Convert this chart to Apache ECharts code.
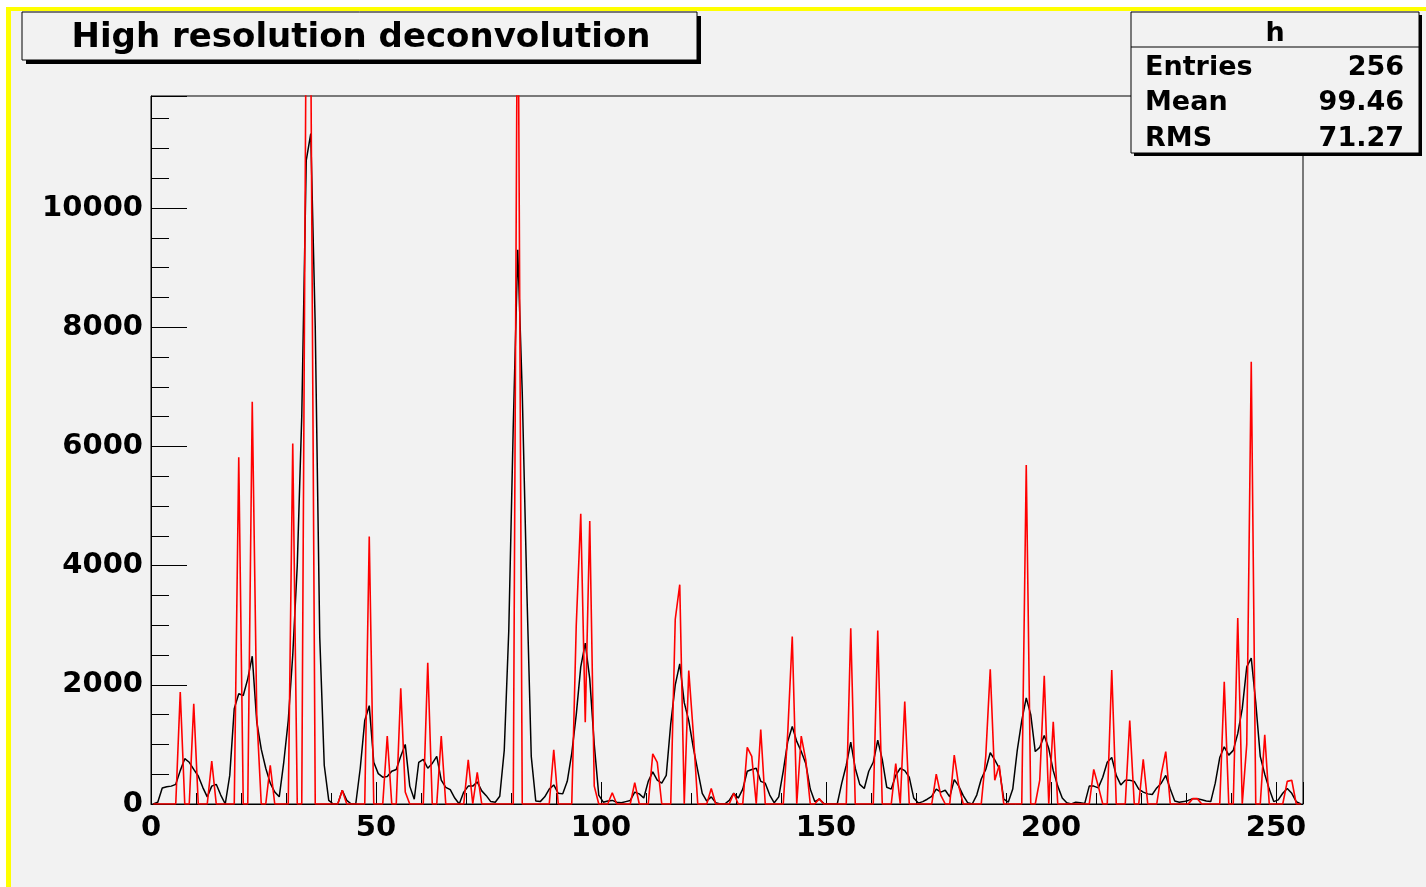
<!DOCTYPE html>
<html><head><meta charset="utf-8">
<script src="https://cdn.jsdelivr.net/npm/echarts@6/dist/echarts.min.js"></script>
<style>html,body{margin:0;padding:0;background:#fff;} #c{width:1426px;height:887px;}</style>
</head><body><div id="c"></div>
<script>
// Source spectrum (black), 256 bins
const sourceCounts = [
  0,30,270,290,300,330,560,760,700,580,470,280,120,300,330,150,
  0,480,1600,1850,1820,2100,2480,1380,920,600,350,200,120,700,1400,2500,
  4000,6500,10800,11250,8000,2800,650,60,0,0,230,60,0,0,600,1400,
  1650,700,510,450,460,550,580,800,1000,300,80,700,750,600,680,800,
  400,280,240,100,0,200,300,300,370,220,140,40,30,130,900,2900,
  6340,9300,6900,3650,800,50,40,120,250,320,180,170,380,850,1500,2300,
  2700,2100,1000,150,30,50,60,30,20,40,60,200,170,100,380,540,
  400,350,480,1350,2000,2350,1700,1400,950,560,180,50,120,20,0,0,
  60,180,100,250,550,580,600,380,350,150,20,120,550,1050,1300,1050,
  880,680,250,40,80,10,0,0,0,350,650,1040,600,330,260,550,
  700,1070,750,280,250,480,600,560,450,100,15,40,80,130,250,200,
  230,120,410,300,140,20,0,150,420,580,860,740,600,80,30,250,
  900,1400,1780,1500,880,950,1150,930,560,300,100,20,0,30,20,10,
  300,300,270,450,700,780,480,320,400,400,380,250,200,170,160,270,
  350,480,250,50,30,40,60,90,90,70,50,40,350,780,960,820,
  900,1180,1600,2300,2450,1700,800,500,250,40,70,180,260,180,40,0
];
// Deconvolved spectrum (red), 256 bins
const deconvCounts = [
  0,0,0,0,0,0,1880,0,0,1680,0,0,0,720,0,0,
  0,0,0,5820,0,0,6750,1500,0,0,650,0,0,0,0,6050,
  0,0,13500,12800,0,0,0,0,0,0,230,0,0,0,0,0,
  4490,0,0,0,1140,0,0,1940,200,0,0,0,0,2370,0,0,
  1140,0,0,0,0,0,740,0,530,0,0,0,0,0,0,0,
  0,15000,0,0,0,0,0,0,0,910,0,0,0,0,3000,4870,
  1370,4750,300,0,0,0,190,0,0,0,0,360,0,0,0,840,
  700,0,0,0,3100,3680,0,2240,1200,0,0,0,260,0,0,0,
  0,180,0,0,950,800,0,1250,0,0,0,0,0,1200,2810,0,
  1140,740,0,0,90,0,0,0,0,0,0,2950,0,0,0,0,
  0,2910,0,0,0,680,0,1720,0,0,0,0,0,0,500,150,
  0,0,820,300,0,0,0,0,0,800,2260,400,650,0,0,0,
  0,0,5690,0,0,400,2150,0,1380,0,0,0,0,0,0,0,
  0,580,300,0,0,2250,0,0,0,1400,0,0,750,0,0,0,
  500,880,0,0,0,0,0,90,90,0,0,0,0,0,2050,0,
  0,3120,0,1000,7420,0,0,1160,0,0,0,0,380,400,0,0
];
const titleText = 'High resolution deconvolution';
const statsName = 'h';
const statsLabels = ['Entries', 'Mean', 'RMS'];
const statsValues = ['256', '99.46', '71.27'];

const xMin = 0, xMax = 256, yMin = 0, yMax = 11880;

const chart = echarts.init(document.getElementById('c'), null, {renderer: 'canvas'});
const FONT = 'DejaVu Sans';
const black = '#000000';
const bg = '#f2f2f2';

function toPoints(arr) { return arr.map((v, i) => [i + 0.5, v]); }

const statsRowsY = [67, 102, 138];
const statsGraphics = [];
statsLabels.forEach((lab, k) => {
  statsGraphics.push({type: 'text', z: 101, x: 1145, y: statsRowsY[k] + 1,
    style: {text: lab, font: 'bold 27px "' + FONT + '"', fill: black, textAlign: 'left', textVerticalAlign: 'middle'}});
  statsGraphics.push({type: 'text', z: 101, x: 1404, y: statsRowsY[k] + 1,
    style: {text: statsValues[k], font: 'bold 27px "' + FONT + '"', fill: black, textAlign: 'right', textVerticalAlign: 'middle'}});
});

chart.setOption({
  animation: false,
  backgroundColor: bg,
  grid: {left: 151, top: 96, width: 1152, height: 708, show: true,
    borderColor: black, borderWidth: 1, backgroundColor: 'transparent'},
  xAxis: [{
    type: 'value', min: xMin, max: xMax, interval: 50,
    axisLine: {show: true, onZero: false, lineStyle: {color: black, width: 1}},
    axisTick: {show: true, inside: true, length: 22, lineStyle: {color: black, width: 1}},
    axisLabel: {show: true, margin: 10, color: black, fontFamily: FONT, fontWeight: 'bold', fontSize: 29,
      formatter: v => (v % 50 === 0 ? String(v) : '')},
    splitLine: {show: false}
  }, {
    type: 'value', min: xMin, max: xMax, interval: 10, position: 'bottom',
    axisLine: {show: false},
    axisTick: {show: true, inside: true, length: 11, lineStyle: {color: black, width: 1}},
    axisLabel: {show: false}, splitLine: {show: false}
  }],
  yAxis: [{
    type: 'value', min: yMin, max: yMax, interval: 2000,
    axisLine: {show: true, onZero: false, lineStyle: {color: black, width: 1}},
    axisTick: {show: true, inside: true, length: 36, lineStyle: {color: black, width: 1}},
    axisLabel: {show: true, margin: 8, color: black, fontFamily: FONT, fontWeight: 'bold', fontSize: 29,
      padding: [16, 0, 0, 0],
      formatter: v => (v % 2000 === 0 ? String(v) : '')},
    splitLine: {show: false}
  }, {
    type: 'value', min: yMin, max: yMax, interval: 500, position: 'left',
    axisLine: {show: false},
    axisTick: {show: true, inside: true, length: 18, lineStyle: {color: black, width: 1}},
    axisLabel: {show: false}, splitLine: {show: false}
  }],
  series: [{
    name: 'source', type: 'line', xAxisIndex: 0, yAxisIndex: 0,
    data: toPoints(sourceCounts), showSymbol: false, symbol: 'none', clip: true,
    lineStyle: {color: '#000000', width: 1.5}, z: 3
  }, {
    name: 'deconvolved', type: 'line', xAxisIndex: 0, yAxisIndex: 0,
    data: toPoints(deconvCounts), showSymbol: false, symbol: 'none', clip: true,
    lineStyle: {color: '#ff0000', width: 1.6}, z: 4
  }],
  graphic: [
    {type: 'rect', z: 100, shape: {x: 0, y: 0, width: 6, height: 887}, style: {fill: '#ffffff'}},
    {type: 'rect', z: 100, shape: {x: 0, y: 0, width: 1426, height: 7}, style: {fill: '#ffffff'}},
    {type: 'rect', z: 100, shape: {x: 6, y: 7, width: 5, height: 880}, style: {fill: '#ffff00'}},
    {type: 'rect', z: 100, shape: {x: 6, y: 7, width: 1420, height: 4}, style: {fill: '#ffff00'}},
    // title box
    {type: 'rect', z: 100, shape: {x: 26, y: 16, width: 675, height: 48}, style: {fill: black}},
    {type: 'rect', z: 100, shape: {x: 22, y: 12, width: 675, height: 48}, style: {fill: bg, stroke: black, lineWidth: 1}},
    {type: 'text', z: 101, x: 361, y: 38,
      style: {text: titleText, font: 'bold 34px "' + FONT + '"', fill: black, textAlign: 'center', textVerticalAlign: 'middle'}},
    // stats box
    {type: 'rect', z: 100, shape: {x: 1134, y: 15, width: 288, height: 141}, style: {fill: black}},
    {type: 'rect', z: 100, shape: {x: 1131, y: 12, width: 288, height: 141}, style: {fill: bg, stroke: black, lineWidth: 1}},
    {type: 'line', z: 101, shape: {x1: 1131, y1: 47, x2: 1419, y2: 47}, style: {stroke: black, lineWidth: 1}},
    {type: 'text', z: 101, x: 1275, y: 34,
      style: {text: statsName, font: 'bold 27px "' + FONT + '"', fill: black, textAlign: 'center', textVerticalAlign: 'middle'}}
  ].concat(statsGraphics)
});
</script></body></html>
